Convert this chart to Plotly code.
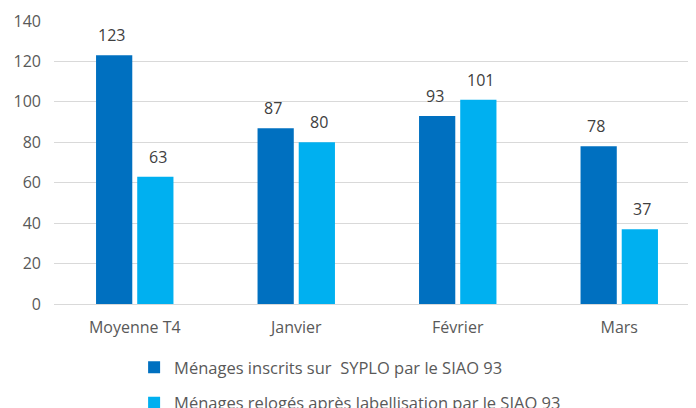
import plotly.graph_objects as go

categories = ["Moyenne T4", "Janvier", "Février", "Mars"]
inscrits = [123, 87, 93, 78]
reloges = [63, 80, 101, 37]
series_names = ["Ménages inscrits sur  SYPLO par le SIAO 93",
                "Ménages relogés après labellisation par le SIAO 93"]
colors = ["#0070C0", "#00B0F0"]
y_ticks = [0, 20, 40, 60, 80, 100, 120, 140]

font = "Open Sans"

fig = go.Figure()
for i, (name, vals) in enumerate(zip(series_names, [inscrits, reloges])):
    fig.add_trace(go.Bar(x=categories, y=vals, name=name,
                         marker=dict(color=colors[i], line=dict(width=0)),
                         legendgroup=str(i)))

# value labels above bars
for i, vals in enumerate([inscrits, reloges]):
    shift = -23 if i == 0 else 23
    for c, v in zip(categories, vals):
        fig.add_annotation(x=c, y=v, text=str(v), showarrow=False,
                           xshift=shift, yshift=7, yanchor="bottom",
                           font=dict(family=font, size=16, color="#404040"))

# page body adds an 8px offset, margins compensate for it
fig.update_layout(
    width=696, height=408,
    margin=dict(l=46, r=4, t=13, b=112, autoexpand=False),
    plot_bgcolor="white", paper_bgcolor="white",
    barmode="group", bargap=0.49, bargroupgap=0.12,
    font=dict(family=font, size=16, color="#595959"),
    showlegend=True,
    legend=dict(orientation="v", x=0.124, xanchor="left", y=-0.163, yanchor="top",
                tracegroupgap=11, font=dict(size=16.5, color="#595959")),
)
fig.update_xaxes(showgrid=False, showline=False, ticks="", ticklabelstandoff=12)
fig.update_yaxes(range=[0, 140], tickvals=y_ticks, gridcolor="#D9D9D9", gridwidth=1,
                 zeroline=True, zerolinecolor="#D9D9D9", zerolinewidth=1,
                 showline=False, ticks="", ticklabelstandoff=12)

fig.write_html("out.html")
